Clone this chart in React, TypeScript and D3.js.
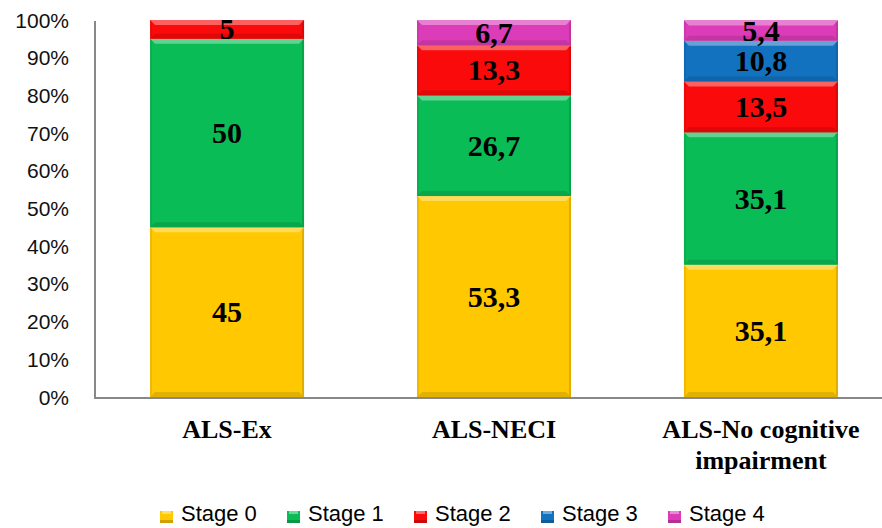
import React, { useEffect, useRef } from 'react';
import * as d3 from 'd3';

const categories = ['ALS-Ex', 'ALS-NECI', 'ALS-No cognitive impairment'];
const categoryLines = [['ALS-Ex'], ['ALS-NECI'], ['ALS-No cognitive', 'impairment']];
const stages = ['Stage 0', 'Stage 1', 'Stage 2', 'Stage 3', 'Stage 4'];
const stage0 = [45, 53.3, 35.1];
const stage1 = [50, 26.7, 35.1];
const stage2 = [5, 13.3, 13.5];
const stage3 = [0, 0, 10.8];
const stage4 = [0, 6.7, 5.4];
const yTicks = [0, 10, 20, 30, 40, 50, 60, 70, 80, 90, 100];

const colors = ['#FFC800', '#0ABC55', '#FA0A0A', '#1272C0', '#DC3CB8'];

const W = 882;
const H = 528;

const App: React.FC = () => {
  const svgRef = useRef<SVGSVGElement>(null);

  useEffect(() => {
    if (!svgRef.current) return;
    const svg = d3.select(svgRef.current);
    svg.selectAll('*').remove();

    const series = [stage0, stage1, stage2, stage3, stage4];
    const rows = categories.map((c, i) => {
      const r: any = { cat: c };
      stages.forEach((s, k) => (r[s] = series[k][i]));
      return r;
    });
    const stacked = d3.stack<any>().keys(stages)(rows);

    const x = d3.scaleBand().domain(categories).range([94, 894]).paddingInner(0.4232).paddingOuter(0.21);
    const y = d3.scaleLinear().domain([0, 100]).range([397, 20]);

    // y labels
    svg.append('g')
      .selectAll('text')
      .data(yTicks)
      .join('text')
      .attr('x', 69)
      .attr('y', d => y(d) + 7.5)
      .attr('text-anchor', 'end')
      .style('font-family', '"Liberation Sans", Arial, sans-serif')
      .style('font-size', '21px')
      .attr('fill', '#111')
      .text(d => `${d}%`);

    // bars with bevel
    const bev = 5;
    stacked.forEach((layer, k) => {
      const base = d3.color(colors[k])!;
      const light = d3.interpolateRgb(colors[k], '#ffffff')(0.35);
      const dark = base.darker(0.6).toString();
      layer.forEach((d, i) => {
        const v = series[k][i];
        if (v <= 0) return;
        const x0 = x(categories[i])!;
        const x1 = x0 + x.bandwidth();
        const yt = y(d[1]);
        const yb = y(d[0]);
        const g = svg.append('g');
        g.append('rect')
          .attr('x', x0).attr('y', yt)
          .attr('width', x1 - x0).attr('height', yb - yt)
          .attr('fill', colors[k]);
        const b = Math.min(bev, (yb - yt) / 3);
        g.append('polygon')
          .attr('points', [[x0, yt], [x1, yt], [x1 - b, yt + b], [x0 + b, yt + b]].map(p => p.join(',')).join(' '))
          .attr('fill', light);
        g.append('polygon')
          .attr('points', [[x0, yb], [x1, yb], [x1 - b, yb - b], [x0 + b, yb - b]].map(p => p.join(',')).join(' '))
          .attr('fill', dark).attr('opacity', 0.6);
        g.append('polygon')
          .attr('points', [[x1, yt], [x1, yb], [x1 - 2, yb - 2], [x1 - 2, yt + 2]].map(p => p.join(',')).join(' '))
          .attr('fill', dark).attr('opacity', 0.7);
        g.append('polygon')
          .attr('points', [[x0, yt], [x0, yb], [x0 + 2, yb - 2], [x0 + 2, yt + 2]].map(p => p.join(',')).join(' '))
          .attr('fill', dark).attr('opacity', 0.35);
        g.append('text')
          .attr('x', (x0 + x1) / 2)
          .attr('y', (yt + yb) / 2 + 10)
          .attr('text-anchor', 'middle')
          .style('font-family', '"Liberation Serif", "Times New Roman", serif')
          .style('font-weight', 'bold')
          .style('font-size', '30px')
          .attr('fill', '#000')
          .text(String(v).replace('.', ','));
      });
    });

    // axes lines
    svg.append('line')
      .attr('x1', 95).attr('x2', 95).attr('y1', 21).attr('y2', 398)
      .attr('stroke', '#888').attr('stroke-width', 2);
    svg.append('line')
      .attr('x1', 94).attr('x2', W).attr('y1', 398).attr('y2', 398)
      .attr('stroke', '#888').attr('stroke-width', 2);

    // category labels
    categoryLines.forEach((lines, i) => {
      const cx = x(categories[i])! + x.bandwidth() / 2;
      lines.forEach((t, j) => {
        svg.append('text')
          .attr('x', cx)
          .attr('y', 438 + j * 31)
          .attr('text-anchor', 'middle')
          .style('font-family', '"Liberation Serif", "Times New Roman", serif')
          .style('font-weight', 'bold')
          .style('font-size', '26px')
          .attr('fill', '#000')
          .text(t);
      });
    });

    // legend
    const lx = d3.scalePoint().domain(stages).range([160, 668]);
    const lg = svg.append('g');
    stages.forEach((s, k) => {
      const px = lx(s)!;
      lg.append('rect')
        .attr('x', px).attr('y', 511).attr('width', 13).attr('height', 12)
        .attr('fill', colors[k]);
      lg.append('rect')
        .attr('x', px + 2).attr('y', 511).attr('width', 9).attr('height', 3)
        .attr('fill', d3.interpolateRgb(colors[k], '#ffffff')(0.4));
      lg.append('rect')
        .attr('x', px).attr('y', 520).attr('width', 13).attr('height', 3)
        .attr('fill', d3.color(colors[k])!.darker(0.6).toString());
      lg.append('text')
        .attr('x', px + 21).attr('y', 521)
        .style('font-family', '"Liberation Sans", Arial, sans-serif')
        .style('font-size', '22px')
        .attr('fill', '#000')
        .text(s);
    });
  }, []);

  return <svg ref={svgRef} width={W} height={H} style={{ display: 'block', position: 'absolute', left: 0, top: 0, background: '#fff' }} />;
};

export default App;
